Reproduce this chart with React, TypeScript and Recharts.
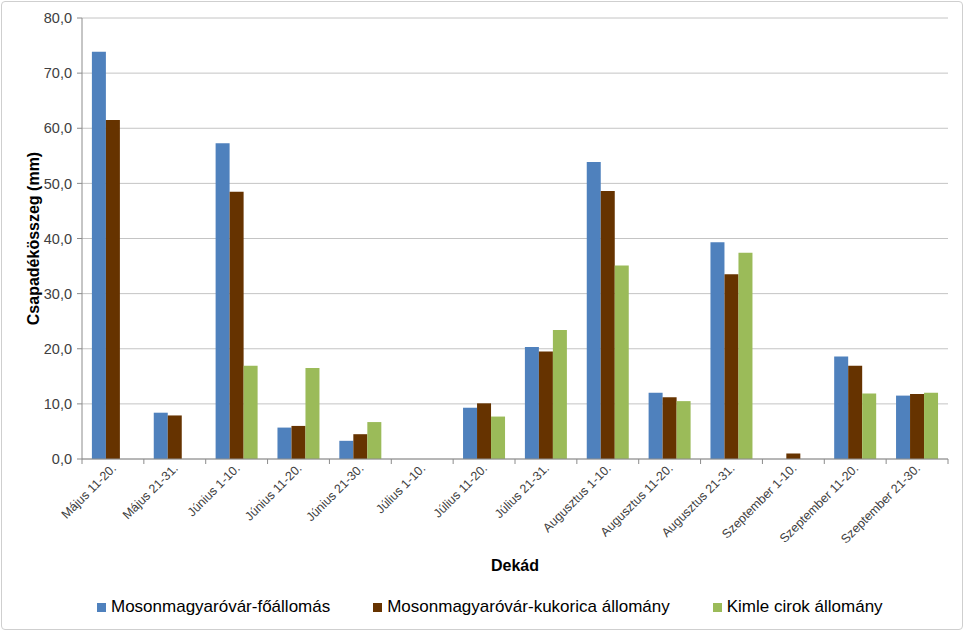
import React from 'react';
import { BarChart, Bar, XAxis, YAxis, CartesianGrid, Label } from 'recharts';

const categories = [
  'Május 11-20.', 'Május 21-31.', 'Június 1-10.', 'Június 11-20.', 'Június 21-30.',
  'Július 1-10.', 'Július 11-20.', 'Július 21-31.', 'Augusztus 1-10.', 'Augusztus 11-20.',
  'Augusztus 21-31.', 'Szeptember 1-10.', 'Szeptember 11-20.', 'Szeptember 21-30.',
];
const foallomas = [73.9, 8.4, 57.3, 5.7, 3.3, 0, 9.3, 20.3, 53.9, 12.0, 39.3, 0, 18.6, 11.5];
const kukorica = [61.5, 7.9, 48.5, 6.0, 4.5, 0, 10.1, 19.5, 48.6, 11.2, 33.5, 1.0, 16.9, 11.8];
const cirok = [0, 0, 16.9, 16.5, 6.7, 0, 7.7, 23.4, 35.1, 10.5, 37.4, 0, 11.9, 12.0];
const yTicks = [0, 10, 20, 30, 40, 50, 60, 70, 80];

const seriesNames = [
  'Mosonmagyaróvár-főállomás',
  'Mosonmagyaróvár-kukorica állomány',
  'Kimle cirok állomány',
];
const colors = ['#4F81BD', '#663300', '#9BBB59'];

const data = categories.map((c, i) => ({
  name: c,
  a: foallomas[i],
  b: kukorica[i],
  c: cirok[i],
}));

const W = 963;
const H = 630;
const M = { top: 18, right: 15, left: 0, bottom: 0 };
const Y_W = 82;
const PLOT_W = W - M.right - M.left - Y_W;
const STEP = PLOT_W / categories.length;
const FONT = '"Liberation Sans", Arial, sans-serif';
const AXIS_COLOR = '#8c8c8c';

const XTick = (props: any) => {
  const { x, y, payload, index } = props;
  const last = index === categories.length - 1;
  return (
    <g>
      <line x1={x - STEP / 2} x2={x - STEP / 2} y1={y} y2={y + 5} stroke={AXIS_COLOR} />
      {last && <line x1={x + STEP / 2} x2={x + STEP / 2} y1={y} y2={y + 5} stroke={AXIS_COLOR} />}
      <text
        x={0}
        y={0}
        transform={`translate(${x + 4},${y + 10}) rotate(-45)`}
        textAnchor="end"
        fontSize={12.5}
        fill="#404040"
        fontFamily={FONT}
      >
        {payload.value}
      </text>
    </g>
  );
};

const YLabel = (props: any) => {
  const { viewBox } = props;
  const cx = viewBox.x + 33;
  const cy = viewBox.y + viewBox.height / 2;
  return (
    <text
      x={0}
      y={0}
      transform={`translate(${cx},${cy}) rotate(-90)`}
      textAnchor="middle"
      dominantBaseline="central"
      fontSize={16}
      fontWeight="bold"
      fill="#000"
      fontFamily={FONT}
    >
      Csapadékösszeg (mm)
    </text>
  );
};

const XLabel = (props: any) => {
  const { viewBox } = props;
  return (
    <text
      x={viewBox.x + viewBox.width / 2}
      y={viewBox.y + 112}
      textAnchor="middle"
      fontSize={16}
      fontWeight="bold"
      fill="#000"
      fontFamily={FONT}
    >
      Dekád
    </text>
  );
};

export default function App() {
  return (
    <div
      style={{
        position: 'absolute',
        left: 0,
        top: 0,
        width: W,
        height: H,
        background: '#fff',
      }}
    >
      <div
        style={{
          position: 'absolute',
          left: 1,
          top: 1,
          width: W - 3,
          height: H - 3,
          border: '1px solid #cfcfcf',
          borderRadius: 4,
          pointerEvents: 'none',
        }}
      />
      <BarChart
        width={W}
        height={H}
        data={data}
        margin={M}
        barCategoryGap="16%"
        barGap={0}
      >
        <CartesianGrid vertical={false} stroke="#c4c4c4" />
        <XAxis
          dataKey="name"
          height={H - 459}
          interval={0}
          tickSize={0}
          tickMargin={0}
          tick={<XTick />}
          axisLine={{ stroke: AXIS_COLOR }}
        >
          <Label content={<XLabel />} />
        </XAxis>
        <YAxis
          width={Y_W}
          domain={[0, 80]}
          ticks={yTicks}
          interval={0}
          tickSize={5}
          tickMargin={5}
          tickLine={{ stroke: AXIS_COLOR }}
          axisLine={{ stroke: AXIS_COLOR }}
          tick={{ fontSize: 14.5, fill: '#404040', fontFamily: FONT }}
          tickFormatter={(v: number) => v.toFixed(1).replace('.', ',')}
        >
          <Label content={<YLabel />} />
        </YAxis>
        <Bar dataKey="a" name={seriesNames[0]} fill={colors[0]} isAnimationActive={false} />
        <Bar dataKey="b" name={seriesNames[1]} fill={colors[1]} isAnimationActive={false} />
        <Bar dataKey="c" name={seriesNames[2]} fill={colors[2]} isAnimationActive={false} />
      </BarChart>
      <div
        style={{
          position: 'absolute',
          top: 597,
          left: 97,
          display: 'flex',
          alignItems: 'center',
          fontFamily: FONT,
          fontSize: 17,
          color: '#000',
          whiteSpace: 'nowrap',
        }}
      >
        {seriesNames.map((n, i) => (
          <div key={n} style={{ display: 'flex', alignItems: 'center', marginRight: 43 }}>
            <span style={{ display: 'inline-block', width: 9, height: 9, background: colors[i], marginRight: 5 }} />
            <span>{n}</span>
          </div>
        ))}
      </div>
    </div>
  );
}
